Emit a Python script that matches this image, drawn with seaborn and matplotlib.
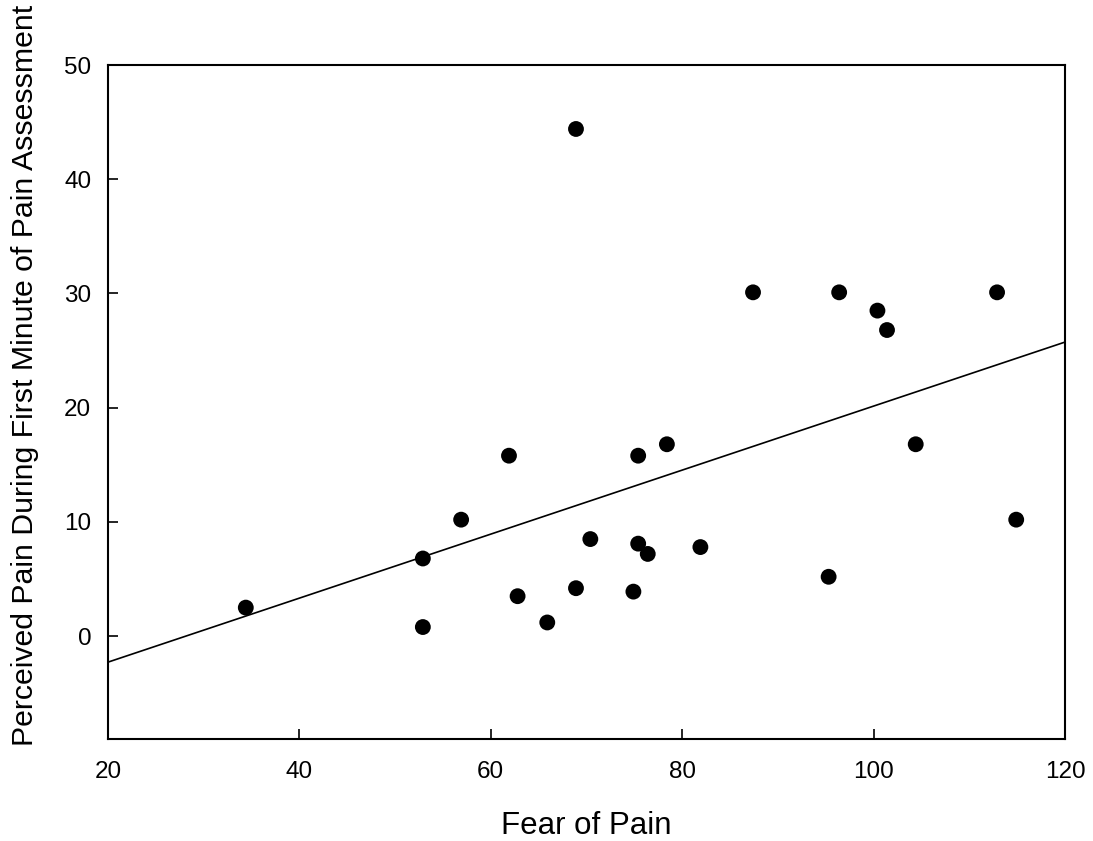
import seaborn as sns
import matplotlib.pyplot as plt
import pandas as pd

fear = [34.4, 52.9, 52.9, 56.9, 61.9, 62.8, 65.9, 68.9, 68.9, 70.4, 74.9, 75.4,
        75.4, 76.4, 78.4, 81.9, 87.4, 95.3, 96.4, 100.4, 101.4, 104.4, 112.9, 114.9]
pain = [2.5, 6.8, 0.8, 10.2, 15.8, 3.5, 1.2, 44.4, 4.2, 8.5, 3.9, 15.8,
        8.1, 7.2, 16.8, 7.8, 30.1, 5.2, 30.1, 28.5, 26.8, 16.8, 30.1, 10.2]

df = pd.DataFrame({'fear': fear, 'pain': pain})

sns.set_style('ticks')
plt.rcParams['font.family'] = ['Liberation Sans', 'DejaVu Sans']
plt.rcParams['text.color'] = 'black'
plt.rcParams['axes.labelcolor'] = 'black'
plt.rcParams['xtick.color'] = 'black'
plt.rcParams['ytick.color'] = 'black'

fig = plt.figure(figsize=(10.93, 8.41), dpi=100)
ax = fig.add_axes([0.0988, 0.1213, 0.8756, 0.8014])
ax.set_xlim(20, 120)
ax.set_ylim(-9, 50)

# linea de regresion extendida hasta los bordes del eje
sns.regplot(data=df, x='fear', y='pain', ax=ax, ci=None, truncate=False,
            scatter_kws={'s': 130, 'color': 'black', 'edgecolor': 'none', 'alpha': 1},
            line_kws={'color': 'black', 'lw': 1.2})

ax.set_xlim(20, 120)
ax.set_ylim(-9, 50)
ax.set_xticks(range(20, 121, 20))
ax.set_yticks(range(0, 51, 10))
ax.tick_params(direction='in', length=7, width=1.2, labelsize=17.5, labelcolor='black')
ax.tick_params(axis='x', pad=16)
ax.tick_params(axis='y', pad=12)
for s in ax.spines.values():
    s.set_linewidth(1.5)
    s.set_color('black')
ax.set_xlabel('Fear of Pain', fontsize=22.5, labelpad=20)
ax.set_ylabel('Perceived Pain During First Minute of Pain Assessment', fontsize=21.8)
ax.yaxis.set_label_coords(-0.072, 0.54)

fig.savefig('out.png', dpi=100)
